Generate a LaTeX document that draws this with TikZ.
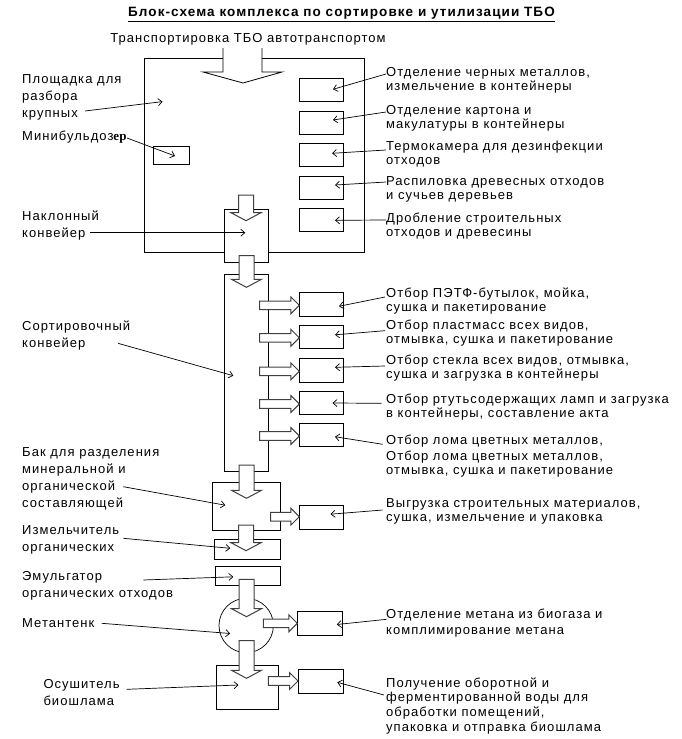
\documentclass[tikz,border=0pt]{standalone}
\usepackage{fontspec}
\setmainfont{Liberation Sans}[LetterSpace=8]
\newfontfamily\glitchfont{Liberation Serif}
\usetikzlibrary{arrows.meta}
\usetikzlibrary{calc}

\newcommand\flowdown[3]{\draw[blk] (#1-7.5,#2) -- (#1-7.5,#3-8) -- (#1-15,#3-8) -- (#1,#3) -- (#1+15,#3-8) -- (#1+7.5,#3-8) -- (#1+7.5,#2) -- cycle;}
\newcommand\flowright[3]{\draw[blk] (#1,#3-4.3) -- (#2-8.5,#3-4.3) -- (#2-8.5,#3-8.5) -- (#2,#3) -- (#2-8.5,#3+8.5) -- (#2-8.5,#3+4.3) -- (#1,#3+4.3) -- cycle;}

\begin{document}
\begin{tikzpicture}[x=1pt,y=-1pt,
	box/.style={draw, fill=white, inner sep=0pt, line width=0.8pt},
	blk/.style={draw=black!75, fill=white, line width=1pt},
	lbl/.style={anchor=base west, inner sep=0pt, align=left, font=\fontsize{13}{17}\selectfont},
	rtxt/.style={anchor=base west, inner sep=0pt, align=left, font=\fontsize{13}{14}\selectfont},
	pointer/.style={-{Straight Barb[length=4pt,width=7pt]}, line width=0.7pt}]
	
	\useasboundingbox (0,0) rectangle (682,739);
	
	\node[anchor=base, inner sep=0pt, font=\bfseries\fontsize{13.5}{15}\selectfont] (title) at (341.5,16.5) {\underline{Блок-схема комплекса по сортировке и утилизации ТБО}};
	\node[anchor=base, inner sep=0pt, font=\fontsize{13}{14}\selectfont] (trans) at (248,42) {Транспортировка ТБО автотранспортом};
	
	\node[box, minimum width=220, minimum height=194] (site) at (254,155) {};
	\fill[white] (223,48) -- (223,72) -- (203,72) -- (243,83) -- (282,72) -- (262,72) -- (262,48) -- cycle;
	\draw[line width=0.8pt] (223,48) -- (223,72) -- (203,72) -- (243,83) -- (282,72) -- (262,72) -- (262,48);
	
	\foreach \y/\n in {90.3/1,122.7/2,155.3/3,188/4,220.3/5}
		\node[box, minimum width=44, minimum height=23] (sep\n) at (321,\y) {};
	\node[box, minimum width=36, minimum height=18] (dozer) at (171,155) {};
	
	\node[box, minimum width=44, minimum height=53.4] (incl) at (246.3,236) {};
	\flowdown{246}{195}{220.7}
	\node[box, minimum width=44, minimum height=196.7] (sort) at (246.3,372.7) {};
	\flowdown{246.5}{255.7}{287.3}
	\foreach \y/\n in {304.3/1,336.8/2,370.3/3,403/4,435/5}{
		\node[box, minimum width=44.4, minimum height=23.5] (pick\n) at (321.5,\y) {};
		\flowright{259.5}{299.3}{\y+1}
	}
	
	\node[box, minimum width=68, minimum height=47.7] (tank) at (246.3,506.2) {};
	\flowdown{246.5}{465}{498.3}
	\node[box, minimum width=44.4, minimum height=24.3] (unload) at (321.5,517.2) {};
	\flowright{270.7}{299.3}{516.7}
	\node[box, minimum width=66, minimum height=20] (shred) at (247.3,549.3) {};
	\flowdown{246}{525}{550.7}
	\node[box, minimum width=65, minimum height=19] (emul) at (247.8,575.8) {};
	\node[circle, draw, fill=white, inner sep=0pt, minimum size=54.4, line width=0.7pt] (meta) at (246.2,625.5) {};
	\flowdown{246.5}{579.3}{616.7}
	\node[box, minimum width=45, minimum height=23.6] (gas) at (319.8,623.5) {};
	\flowright{263.3}{297.3}{623.3}
	\node[box, minimum width=61.6, minimum height=43.6] (dryer) at (247.5,687.5) {};
	\flowdown{246.5}{640.7}{678.3}
	\node[box, minimum width=45, minimum height=24] (water) at (320.8,681.3) {};
	\flowright{268.3}{298}{681}
	
	\node[lbl] (plosT) at (22,117.5) {Площадка для\\разбора\\крупных};
	\node[lbl] (dozerT) at (22,140.5) {Минибульдоз{\glitchfont\bfseries ер}};
	\node[lbl] (inclT) at (22,237.5) {Наклонный\\конвейер};
	\node[lbl] (sortT) at (22,347.8) {Сортировочный\\конвейер};
	\node[lbl] (tankT) at (22,507.2) {Бак для разделения\\минеральной и\\органической\\составляющей};
	\node[lbl] (shredT) at (22,551.2) {Измельчитель\\органических};
	\node[lbl] (emulT) at (22,597.2) {Эмульгатор\\органических отходов};
	\node[lbl] (metaT) at (22,627.2) {Метантенк};
	\node[lbl] (dryerT) at (43.3,705.5) {Осушитель\\биошлама};
	
	\draw[pointer] ($(plosT.base west)+(63,-6.5)$) -- ($(site.north west)+(19,44)$);
	\draw[pointer] ($(dozerT.base west)+(105,-2.5)$) -- ($(dozer)+(4,1)$);
	\draw[pointer] ($(inclT.base west)+(68,-4.8)$) -- ($(incl)+(-1,-3.3)$);
	\draw[pointer] ($(sortT.base west)+(96,-4.5)$) -- ($(sort)+(-13,3)$);
	\draw[pointer] ($(tankT.base west)+(101.3,-20.5)$) -- ($(tank)+(-21,-1)$);
	\draw[pointer] ($(shredT.base west)+(101.3,-12.9)$) -- ($(shred)+(-17,-1)$);
	\draw[pointer] ($(emulT.base west)+(121.3,-17.2)$) -- ($(emul)+(-14.5,1)$);
	\draw[pointer] ($(metaT.base west)+(79.7,-3.9)$) -- ($(meta)+(-16,8)$);
	\draw[pointer] ($(dryerT.base west)+(83.4,-16.2)$) -- ($(dryer)+(-9,-2.5)$);
	
	\node[rtxt] (sepT1) at (386,90.5) {Отделение черных металлов,\\измельчение в контейнеры};
	\node[rtxt] (sepT2) at (386,128.5) {Отделение картона и\\макулатуры в контейнеры};
	\node[rtxt] (sepT3) at (386,164.5) {Термокамера для дезинфекции\\отходов};
	\node[rtxt] (sepT4) at (386,199.5) {Распиловка древесных отходов\\и сучьев деревьев};
	\node[rtxt] (sepT5) at (386,236.5) {Дробление строительных\\отходов и древесины};
	
	\draw[pointer] ($(sepT1.base west)+(0,-16.5)$) -- ($(sep1)+(12,-1)$);
	\draw[pointer] ($(sepT2.base west)+(0,-16.5)$) -- ($(sep2)+(12,-2.7)$);
	\draw[pointer] ($(sepT3.base west)+(0,-14.5)$) -- ($(sep3)+(11,-2)$);
	\draw[pointer] ($(sepT4.base west)+(0,-17.5)$) -- ($(sep4)+(14,-3)$);
	\draw[pointer] ($(sepT5.base west)+(0,-16.5)$) -- ($(sep5)+(14,0)$);
	
	\node[rtxt] (pickT1) at (386,311.2) {Отбор ПЭТФ-бутылок, мойка,\\сушка и пакетирование};
	\node[rtxt] (pickT2) at (386,343.5) {Отбор пластмасс всех видов,\\отмывка, сушка и пакетирование};
	\node[rtxt] (pickT3) at (386,378.5) {Отбор стекла всех видов, отмывка,\\сушка и загрузка в контейнеры};
	\node[rtxt] (pickT4) at (386,417.2) {Отбор ртутьсодержащих ламп и загрузка\\в контейнеры, составление акта};
	\node[rtxt] (pickT5) at (386,474.5) {Отбор лома цветных металлов,\\[2pt]Отбор лома цветных металлов,\\отмывка, сушка и пакетирование};
	
	\draw[pointer] ($(pickT1.base west)+(-1,-14.2)$) -- ($(pick1)+(17.5,2)$);
	\draw[pointer] ($(pickT2.base west)+(-1,-12.8)$) -- ($(pick2)+(13.5,-2)$);
	\draw[pointer] ($(pickT3.base west)+(-1,-12.5)$) -- ($(pick3)+(13.5,-3)$);
	\draw[pointer] ($(pickT4.base west)+(-4.3,-13.9)$) -- ($(pick4)+(11,0)$);
	\draw[pointer] ($(pickT5.base west)+(-3.3,-30.2)$) -- ($(pick5)+(13.5,1.7)$);
	
	\node[rtxt] (unloadT) at (386,521.8) {Выгрузка строительных материалов,\\сушка, измельчение и упаковка};
	\node[rtxt, font=\fontsize{13}{15.7}\selectfont] (gasT) at (386,634.5) {Отделение метана из биогаза и\\комплимирование метана};
	\node[rtxt, font=\fontsize{13}{14.7}\selectfont] (waterT) at (386,731.2) {Получение оборотной и\\ферментированной воды для\\обработки помещений,\\упаковка и отправка биошлама};
	
	\draw[pointer] ($(unloadT.base west)+(-3.3,-11.8)$) -- ($(unload)+(9,-3)$);
	\draw[pointer] ($(gasT.base west)+(0.7,-15.2)$) -- ($(gas)+(17,1)$);
	\draw[pointer] ($(waterT.base west)+(-2,-36.2)$) -- ($(water)+(16.5,1)$);
	
\end{tikzpicture}
\end{document}
